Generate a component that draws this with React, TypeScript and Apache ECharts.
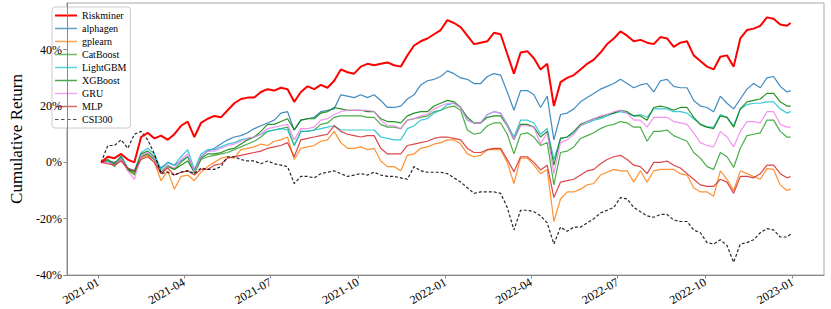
import { useEffect, useRef } from "react";
import * as echarts from "echarts";

// weekly observation dates (Mondays) from 2021-01-04, plus the last trading day
const dates: string[] = (() => {
  const out: string[] = [];
  for (let k = 0; k < 104; k++) {
    const d = new Date(Date.UTC(2021, 0, 4 + 7 * k));
    out.push(d.toISOString().slice(0, 10));
  }
  out.push("2022-12-30");
  return out;
})();

const seriesNames = ["Riskminer", "alphagen", "gplearn", "CatBoost", "LightGBM", "XGBoost", "GRU", "MLP", "CSI300"];

const riskminer = [0, 2, 1.5, 3, 1, 0, 9, 10.5, 8.5, 9.5,
  8, 10, 13, 14.5, 9, 14, 15.5, 16.5, 16, 18.5,
  21, 22.5, 23, 23, 25, 26, 25.5, 26.5, 26, 21.5,
  25, 27, 26, 27.5, 26.5, 29, 33, 32, 31.5, 34,
  35, 34.5, 35, 35.5, 34.5, 34, 38, 41.5, 43, 44,
  45.5, 47, 50.5, 49.5, 48, 45, 42, 42.5, 43, 46,
  45.5, 38.5, 31.5, 39, 39.5, 37, 33, 35, 20, 28.5,
  30, 31, 33, 35, 36.5, 39, 42, 44, 46.5, 45,
  43, 43.5, 42.5, 42, 44.5, 44, 41, 42.5, 43, 38,
  36, 34, 33, 37.5, 38, 34, 44, 47, 47.5, 48.5,
  51.5, 51, 49, 48.5, 49.5];

const alphagen = [0, 0.5, 0, 1, -2.5, -3, 2, 3, 1, -2,
  0, -1, 0.5, 2, -3, 2, 4, 5, 6.5, 8,
  9, 9.5, 10.5, 12, 13, 14, 15, 17.5, 18, 11.5,
  15, 15.5, 16, 18, 18.5, 19, 24, 23.5, 23, 24,
  23, 24, 22, 19.5, 19.5, 20, 22.5, 24, 27.5, 29,
  29.5, 30.5, 32.5, 31.5, 30, 29.5, 28, 28, 30.5, 31.5,
  31, 25, 18.5, 25.5, 25.5, 24, 19.5, 23.5, 8, 17,
  17.5, 19, 21.5, 23, 24.5, 26, 27, 28, 29.5, 28,
  26.5, 27.5, 28, 25, 29, 29.5, 27, 26.5, 26.5, 22,
  20, 19.5, 18, 23.5, 21, 19, 22.5, 26, 28, 26.5,
  30, 30.5, 27, 25, 25.5];

const gplearn = [0, 0.5, -0.5, 1, -3, -4, 1.5, 2.5, 0, -6.5,
  -3, -9.5, -5, -4.5, -6.5, -3.5, -1.5, 0, 1.5, 2,
  1.5, 4.5, 5, 5.5, 6.5, 6, 7.5, 8, 9, 1,
  5, 5.5, 6, 7.5, 8, 11, 7, 5, 5, 5.5,
  4.5, 5, 0.5, -1.5, -1.5, -3, 2.5, 3, 5, 5.5,
  6.5, 7, 8, 8, 6.5, 3, 2, 2.5, 4.5, 4.5,
  4.5, 0, -7.5, 1.5, 1.5, -1, -4, -2.5, -21, -13,
  -10.5, -10.5, -9.5, -8, -7.5, -4.5, -3.5, -2.5, -3, -3,
  -7, -3, -7, -3, -2.5, -2.5, -2.5, -4, -4.5, -9,
  -10.5, -10.5, -12, -3, -6, -10, -3, -4, -5, -6,
  -2.2, -2.5, -8, -10, -9.5];

const catboost = [0, 0.5, -1.5, 1.5, -2.5, -4.5, 2, 3, 1, -3.5,
  -1.5, -2.5, 0, 2, -4, 1, 2, 2.5, 3, 3.5,
  4.5, 5.5, 6.5, 7.5, 9, 11, 11.5, 12, 12.5, 6,
  11, 11, 11.5, 13.5, 14, 16, 16.5, 16.5, 16.5, 16.5,
  16, 16, 13.5, 12.5, 12.5, 12, 15, 15.5, 16, 16.5,
  18, 18.5, 19.5, 20, 18.5, 11.5, 10, 10.5, 13, 14,
  14, 10, 3, 10, 10.5, 9, 6, 7, -8, 3.5,
  4, 5.5, 8.5, 9.5, 10.5, 12, 13, 13.5, 14.5, 14,
  12.5, 12.5, 7.5, 11, 11, 11.5, 9.5, 8.5, 7.5, 3.5,
  1.5, -1.5, -2.5, 3.5, 2, -1.8, 5, 9.5, 10, 10.5,
  15, 15, 11, 9, 9];

const lightgbm = [0, 0.5, -1, 2.5, -2, -3, 3.5, 5, 3, -2.5,
  0, -1, 2, 4.5, -2.5, 3, 4.5, 4.5, 5.5, 6.5,
  7, 8, 8.5, 9, 10, 11, 11.5, 12, 11.5, 6,
  11, 11, 11.5, 12, 12.5, 13, 11.5, 11.5, 11.5, 11.5,
  11.5, 11.5, 9, 8.5, 8, 8, 12, 13, 15, 15.5,
  17.5, 18.5, 20.5, 21, 19.5, 15, 14, 14, 17, 18,
  17.5, 13.5, 9, 15, 15, 14, 10, 12, 1, 8.5,
  9, 10.5, 13, 14, 15, 15.5, 16.5, 17.5, 18, 17.5,
  16.5, 17, 16, 19, 19, 19, 18, 18, 17.5, 15.5,
  13.5, 12.5, 12.5, 17, 16, 13, 19, 20.5, 21, 21,
  21.5, 21.5, 19, 17.5, 18];

const xgboost = [0, 1, -0.5, 2, -2.5, -3.5, 3, 4, 2, -3.5,
  -1, -2.5, -1, 0.5, -3.5, 1.5, 3, 3, 3.5, 4.5,
  5, 6.5, 8, 9, 11, 13.5, 13.5, 14.5, 15.5, 11.5,
  15, 15.5, 15.5, 17.5, 18, 19.5, 19, 18.5, 18.5, 18.5,
  18, 18, 15.5, 14.5, 14.5, 14, 16.5, 17.5, 18, 18,
  20, 21, 22, 21.5, 19.5, 16, 14, 14, 16, 16.5,
  16.5, 13, 8, 13.5, 13.5, 12.5, 9, 11, -1, 8.5,
  9, 11, 13.5, 14.5, 15.5, 16, 17, 17.5, 18.5, 18,
  16.5, 16.5, 15, 19.5, 20, 19.5, 18.5, 19.5, 19.5, 16,
  13.5, 12.5, 12, 16.5, 16, 12.5, 19, 21.5, 22, 22.5,
  24.5, 24.5, 21.5, 20, 20];

const gru = [0, 0, -1, 1.5, -3, -6, 2.5, 3.5, 1.5, -4,
  -1, -2, 1, 3, -3.5, 2, 4, 4, 5, 6,
  6.5, 7.5, 8.5, 9, 10, 12, 12.5, 13, 13.5, 8,
  12, 12, 12.5, 15, 15.5, 17, 18, 18.5, 18.5, 18.5,
  18.5, 18, 15, 13, 13, 12, 15, 15.5, 16.5, 17,
  19, 20, 21, 21, 19.5, 15, 14, 14, 17, 18,
  17.5, 13, 8, 13, 13, 12.5, 6.5, 10.5, -4, 7,
  8, 10, 13, 14.5, 15.5, 16.5, 17, 18, 18.5, 17.5,
  15, 15, 12.5, 16, 16, 16, 14.5, 14, 13.5, 10.5,
  7, 6, 5.5, 11, 9, 5.5, 11, 14.5, 14.5, 14,
  18, 18, 13.5, 12.5, 12.5];

const mlp = [0, -0.5, -1, 0.5, -2, -3, 1, 2, 0, -4,
  -2, -4.5, -3.5, -3, -4.5, -2.5, -2.5, -1, -0.5, 1.5,
  2, 2.5, 3, 3.5, 4, 5, 5.5, 6, 7, 2,
  8, 8.5, 9, 9.5, 10, 13, 11, 10, 9.5, 9,
  9.5, 9.5, 5, 3, 3, 3, 6, 6.5, 7, 7.5,
  8.5, 9, 9, 8.5, 8, 5, 3.5, 3.5, 4.5, 5,
  5, 1, -3.3, 2, 2, 0, -2.7, -1, -12.5, -7,
  -6.5, -6, -4.5, -3, -2.5, -0.5, 1, 2, 2.5, 1,
  -1, -1.5, -4, 0, 0, 0.5, -1, -2, -4, -6,
  -8, -8.5, -8.5, -6, -7, -11, -5, -5, -5.5, -4,
  -1, -1, -4, -5.5, -5];

const csi300 = [0, 6, 6, 8, 5, 10, 11, 8, 3, -4,
  -3.5, -4.5, -3.5, -3, -4, -2, -2.5, -2.5, -1.5, 2,
  2, 1, 0.5, 0.5, -0.5, 0.5, -0.5, -1, -1.5, -7.5,
  -5, -5, -5.5, -4, -3.5, -3, -4, -5, -4.5, -4,
  -4.5, -3.5, -4.5, -5, -5, -5.5, -6, -1.5, -3, -3.5,
  -3.5, -3.5, -4, -5.5, -7, -9, -11, -10.5, -10.5, -10.5,
  -11, -16, -24, -17, -17, -17.5, -19, -21.5, -29, -23,
  -24.5, -23, -23, -21.5, -20, -18, -17, -16, -12.5, -13,
  -16, -17.5, -19, -19.5, -18.5, -18.5, -20.5, -21, -21, -24,
  -25, -28.5, -29, -27.5, -29.5, -35.5, -29, -28.5, -27.5, -25,
  -23.5, -24, -26.5, -26.5, -25.5];

const yTicks = [-40, -20, 0, 20, 40];

const seriesValues = [riskminer, alphagen, gplearn, catboost, lightgbm, xgboost, gru, mlp, csi300];
const seriesColors = ["#ff0000", "#1f77b4", "#ff7f0e", "#2ca02c", "#17becf", "#008000", "#ee82ee", "#d62728", "#000000"];

const FONT = "Liberation Serif";

// legend handles: a horizontal stroke in a 22x11 box (tiny corner dots fix the box)
const BOX = "M0,0h0.01v0.01h-0.01z M21.99,10.99h0.01v0.01h-0.01z ";
const ICON_THICK = "path://" + BOX + "M0,4.5h22v2h-22z";
const ICON_THIN = "path://" + BOX + "M0,4.8h22v1.4h-22z";
const ICON_DASH = "path://" + BOX + "M0,4.9h3.5v1.2h-3.5z M6,4.9h3.5v1.2h-3.5z M12,4.9h3.5v1.2h-3.5z M18,4.9h3.5v1.2h-3.5z";

export default function App() {
  const ref = useRef<HTMLDivElement>(null);
  useEffect(() => {
    if (!ref.current) return;
    const chart = echarts.init(ref.current, undefined, { renderer: "svg" });
    const series = seriesNames.map((name, i) => ({
      name,
      type: "line",
      symbol: "none",
      showSymbol: false,
      data: dates.map((d, j) => [d, seriesValues[i][j]]),
      lineStyle: {
        color: seriesColors[i],
        width: i === 0 ? 2 : 1.2,
        opacity: i === 0 ? 1 : 0.85,
        type: name === "CSI300" ? [3, 2] : "solid",
      },
      itemStyle: { color: seriesColors[i], opacity: i === 0 ? 1 : 0.85 },
      emphasis: { disabled: true },
      z: i === 0 ? 3 : 2,
    }));
    chart.setOption({
      animation: false,
      backgroundColor: "#ffffff",
      grid: {
        left: 49,
        right: 7,
        top: 3,
        bottom: 34,
        show: true,
        borderColor: "#a8a8a8",
        borderWidth: 1,
        backgroundColor: "transparent",
      },
      legend: {
        orient: "vertical",
        left: 52,
        top: 7,
        itemWidth: 22,
        itemHeight: 11,
        itemGap: 2,
        padding: [3, 4, 3, 3],
        borderColor: "#cccccc",
        borderWidth: 1,
        borderRadius: 3,
        backgroundColor: "#ffffff",
        textStyle: { fontFamily: FONT, fontSize: 10, color: "#000" },
        data: seriesNames.map((name, i) => ({
          name,
          icon: i === 0 ? ICON_THICK : name === "CSI300" ? ICON_DASH : ICON_THIN,
          itemStyle: { color: seriesColors[i], opacity: i === 0 ? 1 : 0.7, borderWidth: 0 },
        })),
      },
      xAxis: {
        type: "time",
        min: "2020-11-29",
        max: "2023-02-03",
        minInterval: 100 * 86400000,
        maxInterval: 100 * 86400000,
        axisLine: { show: true, onZero: false, lineStyle: { color: "#888888", width: 1 } },
        axisTick: { show: true, length: 3.5, lineStyle: { color: "#888888" } },
        splitLine: { show: false },
        axisLabel: {
          formatter: "{yyyy}-{MM}",
          rotate: 30,
          fontFamily: FONT,
          fontSize: 12,
          color: "#000",
          margin: 6,
          hideOverlap: false,
        },
      },
      yAxis: {
        type: "value",
        z: 6,
        min: yTicks[0],
        max: 56.6,
        interval: 20,
        name: "Cumulative Return",
        nameLocation: "middle",
        nameGap: 27,
        nameTextStyle: { fontFamily: FONT, fontSize: 17, color: "#000" },
        axisLine: { show: true, onZero: false, lineStyle: { color: "#888888", width: 1 } },
        axisTick: { show: true, length: 3.5, lineStyle: { color: "#888888" } },
        splitLine: { show: false },
        axisLabel: {
          formatter: "{value}%",
          fontFamily: FONT,
          fontSize: 12,
          color: "#000",
          margin: 5,
          showMaxLabel: false,
        },
      },
      series,
    });
    return () => chart.dispose();
  }, []);
  return <div ref={ref} style={{ position: "fixed", left: 0, top: 0, width: 831, height: 309 }} />;
}
